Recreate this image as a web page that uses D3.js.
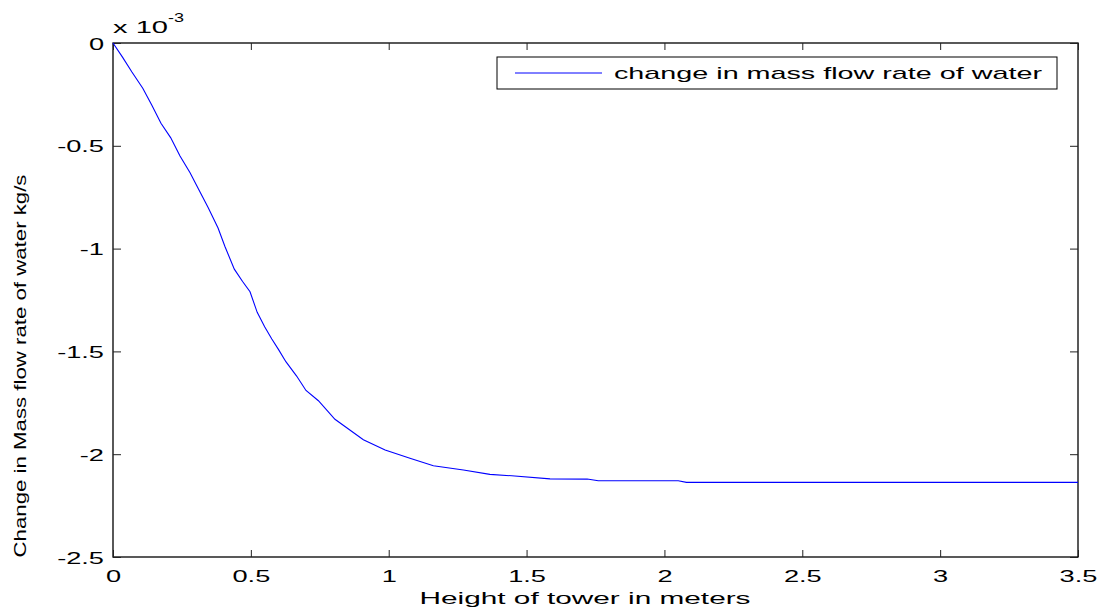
<!DOCTYPE html>
<html>
<head>
<meta charset="utf-8">
<script src="https://cdn.jsdelivr.net/npm/d3@7"></script>
<style>
  html, body { margin: 0; padding: 0; background: #fff; }
  svg { display: block; font-family: "Liberation Sans", Arial, sans-serif; }
</style>
</head>
<body>
<svg id="chart" width="1102" height="614"></svg>
<script>
// ---- data (values in units of 1e-3 kg/s) ----
const heights = [0, 0.035, 0.068, 0.108, 0.14, 0.174, 0.209, 0.243, 0.279, 0.31, 0.345, 0.381,
  0.406, 0.44, 0.47, 0.497, 0.523, 0.55, 0.576, 0.6, 0.627, 0.666, 0.70, 0.745, 0.805,
  0.908, 0.987, 1.077, 1.162, 1.271, 1.367, 1.446, 1.585, 1.72, 1.76, 2.05, 2.08, 3.5];
const massFlowChange = [0, -0.07, -0.14, -0.22, -0.30, -0.39, -0.46, -0.55, -0.63, -0.71, -0.80, -0.90,
  -0.99, -1.10, -1.16, -1.21, -1.31, -1.38, -1.44, -1.49, -1.55, -1.62, -1.69, -1.74, -1.83,
  -1.93, -1.98, -2.02, -2.056, -2.077, -2.098, -2.105, -2.12, -2.121, -2.129, -2.129, -2.137, -2.137];
const xTicks = [0, 0.5, 1, 1.5, 2, 2.5, 3, 3.5];
const yTicks = [0, -0.5, -1, -1.5, -2, -2.5];
const seriesName = "change in mass flow rate of water";
const xLabel = "Height of tower in meters";
const yLabel = "Change in Mass flow rate of water kg/s";

const svg = d3.select("#chart");
const L = 113, R = 1078, T = 43, B = 557;
const x = d3.scaleLinear().domain([0, 3.5]).range([L, R]);
const y = d3.scaleLinear().domain([-2.5, 0]).range([B, T]);
const SX = 1.6;
const fmt = d => String(d); // plain hyphen-minus like the reference

// frame
svg.append("rect").attr("x", L).attr("y", T).attr("width", R - L).attr("height", B - T)
  .attr("fill", "none").attr("stroke", "#000").attr("stroke-width", 1.3);

// axes
const gx = svg.append("g").attr("transform", `translate(0,${B})`)
  .call(d3.axisBottom(x).tickValues(xTicks).tickSize(-7).tickPadding(0).tickFormat(fmt));
const gxt = svg.append("g").attr("transform", `translate(0,${T})`)
  .call(d3.axisTop(x).tickValues(xTicks).tickSize(-7).tickFormat(""));
const gy = svg.append("g").attr("transform", `translate(${L},0)`)
  .call(d3.axisLeft(y).tickValues(yTicks).tickSize(-8).tickFormat(fmt));
const gyr = svg.append("g").attr("transform", `translate(${R},0)`)
  .call(d3.axisRight(y).tickValues(yTicks).tickSize(-8).tickFormat(""));
[gx, gxt, gy, gyr].forEach(g => {
  g.select(".domain").remove();
  g.selectAll(".tick line").attr("stroke", "#222").attr("stroke-width", 1);
});
gx.selectAll(".tick text").attr("font-size", 17).attr("fill", "#000")
  .attr("y", 25).attr("dy", 0).attr("transform", `scale(${SX},1)`)
  .style("font-family", "Liberation Sans, Arial, sans-serif");
gy.selectAll(".tick text").attr("font-size", 17).attr("fill", "#000")
  .attr("x", -9 / SX).attr("dy", "0.36em").attr("transform", `scale(${SX},1)`)
  .style("font-family", "Liberation Sans, Arial, sans-serif");

// exponent label
svg.append("text").attr("x", L).attr("y", 33).attr("font-size", 17)
  .attr("fill", "#000").attr("textLength", 55).attr("lengthAdjust", "spacingAndGlyphs").text("x 10");
svg.append("text").attr("x", 168).attr("y", 22).attr("font-size", 13)
  .attr("fill", "#000").attr("textLength", 16).attr("lengthAdjust", "spacingAndGlyphs").text("-3");

// line
const line = d3.line().x((d, i) => x(heights[i])).y(d => y(d));
svg.append("path").datum(massFlowChange).attr("d", line)
  .attr("fill", "none").attr("stroke", "#0000ff").attr("stroke-width", 1.1);

// axis labels
svg.append("text").attr("x", 585).attr("y", 604).attr("text-anchor", "middle")
  .attr("font-size", 17).attr("fill", "#000")
  .attr("textLength", 331).attr("lengthAdjust", "spacingAndGlyphs").text(xLabel);
svg.append("text").attr("transform", "translate(26,366) rotate(-90)").attr("text-anchor", "middle")
  .attr("font-size", 17).attr("fill", "#000")
  .attr("textLength", 383).attr("lengthAdjust", "spacingAndGlyphs").text(yLabel);

// legend
svg.append("rect").attr("x", 497).attr("y", 57).attr("width", 560).attr("height", 32)
  .attr("fill", "#fff").attr("stroke", "#000").attr("stroke-width", 1);
svg.append("line").attr("x1", 515).attr("x2", 602).attr("y1", 73).attr("y2", 73)
  .attr("stroke", "#0000ff").attr("stroke-width", 1);
svg.append("text").attr("x", 614).attr("y", 79).attr("font-size", 17).attr("fill", "#000")
  .attr("textLength", 428).attr("lengthAdjust", "spacingAndGlyphs").text(seriesName);
</script>
</body>
</html>
